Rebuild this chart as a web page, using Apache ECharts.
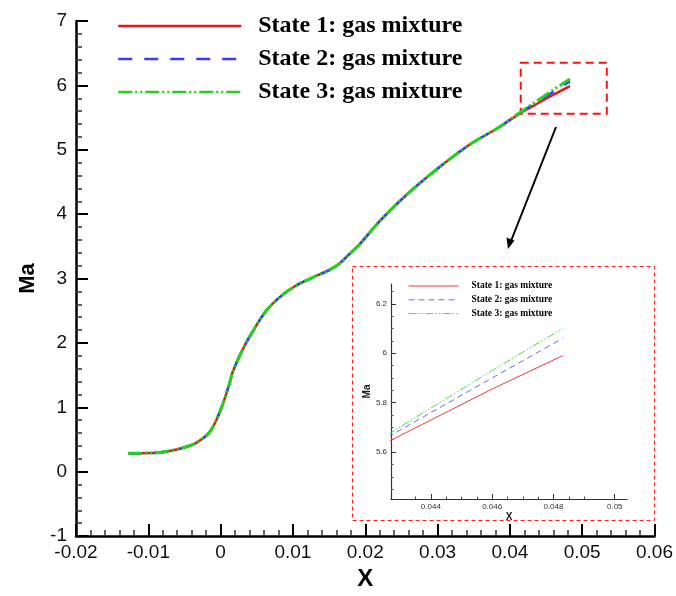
<!DOCTYPE html>
<html>
<head>
<meta charset="utf-8">
<script src="https://cdn.jsdelivr.net/npm/echarts@6/dist/echarts.min.js"></script>
<style>html,body{margin:0;padding:0;background:#fff}#c{width:676px;height:596px}</style>
</head>
<body>
<div id="c"></div>
<script>
// ---- data ----
const xValues = [-0.0128, -0.0100, -0.0084, -0.0061, -0.0038, -0.0020, -0.0013, -0.0006, 0.0003, 0.0012, 0.0017, 0.0031, 0.0045, 0.0063, 0.0086, 0.0109, 0.0132, 0.0150, 0.0164, 0.0178, 0.0192, 0.0219, 0.0256, 0.0298, 0.0343, 0.0385, 0.0412, 0.0427, 0.0460, 0.0483];
const maState1 = [0.285, 0.29, 0.298, 0.345, 0.424, 0.56, 0.65, 0.80, 1.05, 1.36, 1.56, 1.91, 2.19, 2.50, 2.75, 2.92, 3.04, 3.13, 3.23, 3.38, 3.53, 3.88, 4.29, 4.69, 5.07, 5.35, 5.55, 5.648, 5.855, 5.99];
const maState2 = [0.285, 0.29, 0.298, 0.345, 0.424, 0.56, 0.65, 0.80, 1.05, 1.36, 1.56, 1.91, 2.19, 2.50, 2.75, 2.92, 3.04, 3.13, 3.23, 3.38, 3.53, 3.88, 4.29, 4.69, 5.07, 5.35, 5.56, 5.668, 5.90, 6.06];
const maState3 = [0.285, 0.29, 0.298, 0.345, 0.424, 0.56, 0.65, 0.80, 1.05, 1.36, 1.56, 1.91, 2.19, 2.50, 2.75, 2.92, 3.04, 3.13, 3.23, 3.38, 3.53, 3.88, 4.29, 4.69, 5.07, 5.35, 5.565, 5.679, 5.93, 6.10];
const seriesNames = ['State 1: gas mixture', 'State 2: gas mixture', 'State 3: gas mixture'];
const insetXLabels = [0.044, 0.046, 0.048, 0.05];
const insetXMinor = [0.043, 0.0435, 0.0445, 0.045, 0.0455, 0.0465, 0.047, 0.0475, 0.0485, 0.049, 0.0495];
const insetYLabels = [5.6, 5.8, 6, 6.2];
const insetYMinor = [5.45, 5.5, 5.55, 5.65, 5.7, 5.75, 5.85, 5.9, 5.95, 6.05, 6.1, 6.15, 6.25];
const zoomBox = [[0.0415, 6.35], [0.0534, 5.56]];

const pairs = ys => xValues.map((x, i) => [x, ys[i]]);
const colors = ['#e8141c', '#3a3aff', '#1fd21f'];
const insetColors = ['#f03a3a', '#6a6aff', '#45dc45'];
const mainDash = ['solid', [14, 12], [14, 3, 2, 3, 2, 3]];
const insetDash = ['solid', [6, 4], [8, 2, 1.5, 2, 1.5, 2]];
const allData = [maState1, maState2, maState3];

const chart = echarts.init(document.getElementById('c'), null, {renderer: 'canvas'});
const fmt = v => String(+(+v).toFixed(4));

const series = [];
allData.forEach((d, i) => {
  const s = {
    name: seriesNames[i], type: 'line', data: pairs(d), xAxisIndex: 0, yAxisIndex: 0,
    symbol: 'none', smooth: 0.3, z: 2 + i,
    lineStyle: {color: colors[i], width: i === 2 ? 3 : 2.5, type: mainDash[i]},
    itemStyle: {color: colors[i]}
  };
  if (i === 0) {
    s.markArea = {
      silent: true,
      itemStyle: {color: 'rgba(0,0,0,0)', borderColor: '#ff1010', borderWidth: 2, borderType: [8, 5]},
      data: [[{xAxis: zoomBox[0][0], yAxis: zoomBox[0][1]}, {xAxis: zoomBox[1][0], yAxis: zoomBox[1][1]}]]
    };
  }
  series.push(s);
});
allData.forEach((d, i) => {
  series.push({
    name: seriesNames[i], type: 'line', data: pairs(d), xAxisIndex: 1, yAxisIndex: 1,
    symbol: 'none', z: 10 + i, clip: true,
    lineStyle: {color: insetColors[i], width: 1, type: insetDash[i]},
    itemStyle: {color: insetColors[i]}
  });
});

const hiddenSym = {color: 'rgba(0,0,0,0)', borderColor: 'rgba(0,0,0,0)', borderWidth: 0, opacity: 0};

const insetGridBox = {left: 391, right: 49, top: 284, bottom: 97, containLabel: false};

const option = {
  backgroundColor: '#fff',
  animation: false,
  legend: [
    {
      orient: 'vertical', left: 117, top: 14, padding: 0,
      itemWidth: 123, itemHeight: 14, itemGap: 9,
      itemStyle: hiddenSym,
      textStyle: {fontFamily: 'Liberation Serif', fontWeight: 'bold', fontSize: 24, color: '#000', lineHeight: 24, padding: [0, 0, 0, 12]},
      data: seriesNames.map((n, i) => ({name: n, itemStyle: hiddenSym, lineStyle: {color: colors[i], width: 2.5, type: mainDash[i]}}))
    },
    {
      orient: 'vertical', left: 408, top: 281, padding: 0,
      itemWidth: 50, itemHeight: 10, itemGap: 3.8,
      itemStyle: hiddenSym,
      textStyle: {fontFamily: 'Liberation Serif', fontWeight: 'bold', fontSize: 9.5, color: '#000', lineHeight: 10, padding: [0, 0, 0, 8]},
      data: seriesNames.map((n, i) => ({name: n, itemStyle: hiddenSym, lineStyle: {color: insetColors[i], width: 1, type: insetDash[i]}}))
    }
  ],
  grid: [
    {left: 76, right: 20, top: 21, bottom: 47, containLabel: false},
    Object.assign({}, insetGridBox),
    Object.assign({}, insetGridBox)
  ],
  xAxis: [
    {
      type: 'value', gridIndex: 0, min: -0.02, max: 0.06, interval: 0.01,
      name: 'X', nameLocation: 'middle', nameGap: 25,
      nameTextStyle: {fontFamily: 'Liberation Sans', fontWeight: 'bold', fontSize: 24, color: '#000'},
      axisLine: {onZero: false, lineStyle: {color: '#000', width: 2.5}},
      axisTick: {inside: true, length: 12, lineStyle: {color: '#000', width: 2}},
      minorTick: {show: true, splitNumber: 5, length: 6, lineStyle: {color: '#333', width: 1.5}},
      splitLine: {show: false},
      axisLabel: {fontFamily: 'Liberation Sans', fontSize: 19, color: '#111', margin: 7, formatter: fmt}
    },
    {
      type: 'value', gridIndex: 1, min: 0.0427, max: 0.0504, position: 'bottom',
      name: 'X', nameLocation: 'middle', nameGap: 9,
      nameTextStyle: {fontFamily: 'Liberation Sans', fontWeight: 'bold', fontSize: 10, color: '#222'},
      axisLine: {onZero: false, lineStyle: {color: '#333', width: 1.2}},
      axisTick: {show: true, inside: true, length: 5, customValues: insetXLabels, lineStyle: {color: '#333', width: 1}},
      splitLine: {show: false},
      axisLabel: {fontFamily: 'Liberation Sans', fontSize: 8, color: '#333', margin: 4, customValues: insetXLabels, formatter: fmt}
    },
    {
      type: 'value', gridIndex: 2, min: 0.0427, max: 0.0504, position: 'bottom',
      axisLine: {show: false, onZero: false},
      axisTick: {show: true, inside: true, length: 2.5, customValues: insetXMinor, lineStyle: {color: '#555', width: 1}},
      splitLine: {show: false},
      axisLabel: {show: true, customValues: insetXMinor, color: 'rgba(0,0,0,0)', fontSize: 6}
    }
  ],
  yAxis: [
    {
      type: 'value', gridIndex: 0, min: -1, max: 7, interval: 1,
      name: 'Ma', nameLocation: 'middle', nameGap: 36, nameRotate: 90,
      nameTextStyle: {fontFamily: 'Liberation Sans', fontWeight: 'bold', fontSize: 22, color: '#000'},
      axisLine: {show: true, onZero: false, lineStyle: {color: '#000', width: 2.5}},
      axisTick: {show: true, inside: true, length: 12, lineStyle: {color: '#000', width: 2}},
      minorTick: {show: true, splitNumber: 5, length: 6, lineStyle: {color: '#333', width: 1.5}},
      splitLine: {show: false},
      axisLabel: {fontFamily: 'Liberation Sans', fontSize: 19, color: '#111', margin: 9}
    },
    {
      type: 'value', gridIndex: 1, min: 5.41, max: 6.28, position: 'left',
      name: 'Ma', nameLocation: 'middle', nameGap: 18, nameRotate: 90,
      nameTextStyle: {fontFamily: 'Liberation Sans', fontWeight: 'bold', fontSize: 10, color: '#222'},
      axisLine: {show: true, onZero: false, lineStyle: {color: '#333', width: 1.2}},
      axisTick: {show: true, inside: true, length: 5, customValues: insetYLabels, lineStyle: {color: '#333', width: 1}},
      splitLine: {show: false},
      axisLabel: {fontFamily: 'Liberation Sans', fontSize: 8, color: '#333', margin: 4, customValues: insetYLabels, formatter: fmt}
    },
    {
      type: 'value', gridIndex: 2, min: 5.41, max: 6.28, position: 'left',
      axisLine: {show: false, onZero: false},
      axisTick: {show: true, inside: true, length: 2.5, customValues: insetYMinor, lineStyle: {color: '#555', width: 1}},
      splitLine: {show: false},
      axisLabel: {show: true, customValues: insetYMinor, color: 'rgba(0,0,0,0)', fontSize: 6}
    }
  ],
  graphic: [
    {type: 'rect', z: 1, shape: {x: 352.5, y: 266.5, width: 302, height: 254},
     style: {fill: 'none', stroke: '#ff2020', lineWidth: 1, lineDash: [4, 3]}},
    {type: 'line', z: 1, shape: {x1: 556, y1: 127, x2: 511, y2: 241},
     style: {stroke: '#000', lineWidth: 2}},
    {type: 'polygon', z: 1, shape: {points: [[508, 249], [506.5, 237.5], [514.5, 240.5]]},
     style: {fill: '#000'}}
  ],
  series: series
};
chart.setOption(option);
</script>
</body>
</html>
